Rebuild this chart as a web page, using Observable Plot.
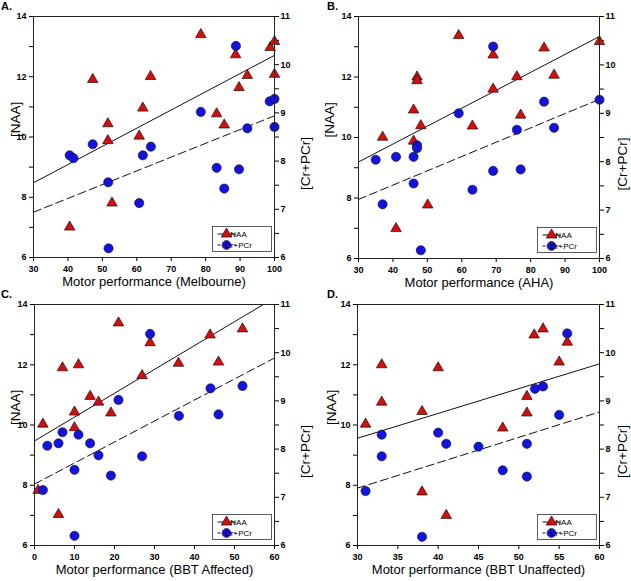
<!DOCTYPE html>
<html><head><meta charset="utf-8">
<script src="https://cdn.jsdelivr.net/npm/d3@7"></script>
<script src="https://cdn.jsdelivr.net/npm/@observablehq/plot@0.6"></script>
<style>
body{margin:0;background:#fff;}
#root{position:relative;width:631px;height:581px;font-family:Arial,"Liberation Sans",sans-serif;overflow:hidden;}
.panel{position:absolute;}
.panel svg{overflow:visible;}
.lbl{position:absolute;font-weight:bold;font-size:11px;line-height:11px;color:#000;}
</style></head><body><div id="root"></div>
<script>
// ---- tick values ----
const naaTicks = [6,7,8,9,10,11,12,13,14];
const crTicks = [6,6.5,7,7.5,8,8.5,9,9.5,10,10.5,11];
const melbTicks = [30,40,50,60,70,80,90,100];
const ahaTicks = [30,40,50,60,70,80,90,100];
const bbtaTicks = [0,10,20,30,40,50,60];
const bbtuTicks = [30,35,40,45,50,55,60];

// ---- A: Melbourne ----
const melbNaaX = [40.5,47.2,51.6,51.6,52.8,60.7,61.75,64,78.6,83.2,85.4,88.7,89.7,92.1,98.75,100,100];
const melbNaa  = [7.01,11.91,10.44,9.88,7.81,10.03,10.96,12.01,13.40,10.77,10.40,12.73,11.64,12.04,12.97,13.17,12.08];
const melbCrX  = [40.5,41.6,47.2,51.7,51.8,60.7,61.75,64.1,78.6,83.2,85.4,88.8,89.7,92.1,98.6,100,100];
const melbCr   = [8.12,8.06,8.35,7.56,6.19,7.13,8.12,8.30,9.02,7.86,7.43,10.39,7.83,8.68,9.24,9.29,8.71];
const melbFitX = [30,100];
const melbFitNaa = [8.48,12.71];
const melbFitCr = [6.94,8.94];

// ---- B: AHA ----
const ahaNaaX = [37,40.9,46,46,47,47,48.1,50.1,59.1,63.1,69.1,69.1,76,77.1,83.9,86.8,100];
const ahaNaa  = [10.01,6.99,10.91,9.88,12.0,11.88,10.39,7.77,13.37,10.38,12.73,11.60,12.01,10.74,12.96,12.06,13.17];
const ahaCrX  = [35,37,40.9,46,46,47,47,48.1,59.1,63.1,69.1,69.1,76,77.1,83.9,86.8,100];
const ahaCr   = [8.04,7.12,8.10,8.10,7.55,8.34,8.28,6.17,9.00,7.42,10.38,7.81,8.66,7.84,9.24,8.70,9.28];
const ahaFitX = [30,100];
const ahaFitNaa = [9.19,13.34];
const ahaFitCr = [7.22,9.29];

// ---- C: BBT Affected ----
const bbtaNaaX = [0.9,2.1,6.0,7.0,10.0,10.0,11.0,13.9,16.0,19.1,21.0,26.9,28.9,36.0,43.9,46.0,52.0];
const bbtaNaa  = [7.83,10.03,7.03,11.90,10.43,9.91,12.0,10.95,10.76,10.40,13.39,11.64,12.73,12.05,12.99,12.09,13.19];
const bbtaCrX  = [2.1,3.2,6.0,7.0,10.0,10.0,11.0,13.9,16.0,19.1,21.0,26.9,28.9,36.1,44.0,46.0,52.0];
const bbtaCr   = [7.15,8.07,8.12,8.35,7.57,6.20,8.30,8.12,7.87,7.45,9.02,7.85,10.39,8.69,9.26,8.72,9.31];
const bbtaFitX = [0,60];
const bbtaFitNaa = [9.47,14.22];
const bbtaFitCr = [7.275,9.89];

// ---- D: BBT Unaffected ----
const bbtuNaaX = [31,33,33,38,38,40,41,48,51,51,51.9,53,55,56];
const bbtuNaa  = [10.03,12.0,10.76,10.45,7.78,11.90,7.0,9.90,10.95,10.40,12.99,13.19,12.09,12.75];
const bbtuCrX  = [31,33,33,38,40,41,45,48,51,51,52,53,55,56];
const bbtuCr   = [7.13,8.30,7.85,6.18,8.34,8.11,8.05,7.56,8.11,7.43,9.25,9.30,8.71,10.40];
const bbtuFitX = [30,60];
const bbtuFitNaa = [9.56,12.03];
const bbtuFitCr = [7.19,8.77];

const RED = "#dc0a0a", BLUE = "#1212e8", DASH = "8,4";
const toL = c => 6 + (c - 6) * 1.6;            // Cr+PCr axis (6–11) onto NAA axis (6–14)
const fromL = v => (v - 6) / 1.6 + 6;

function panel(o) {
  const naa = o.naaX.map((x, i) => ({x, y: o.naa[i]}));
  const cr = o.crX.map((x, i) => ({x, y: toL(o.cr[i])}));
  const fitN = o.fitX.map((x, i) => ({x, y: o.fitNaa[i]}));
  const fitC = o.fitX.map((x, i) => ({x, y: toL(o.fitCr[i])}));
  const svg = Plot.plot({
    width: o.W, height: o.H,
    marginLeft: o.m.left, marginRight: o.m.right, marginTop: o.m.top, marginBottom: o.m.bottom,
    x: {domain: o.xDomain},
    y: {domain: [6, 14]},
    style: {fontFamily: "Arial, 'Liberation Sans', sans-serif", fontSize: "9px", color: "#000", background: "transparent", overflow: "visible"},
    marks: [
      Plot.axisX({ticks: o.xTicks, tickSize: 4, tickPadding: 4, fontWeight: "bold", fontSize: 9, label: null}),
      Plot.axisY({ticks: naaTicks, tickSize: 4, tickPadding: 3, fontWeight: "bold", fontSize: 9, label: null,
        tickFormat: d => (d % 2 === 0 ? String(d) : "")}),
      Plot.axisY({anchor: "right", ticks: crTicks.map(toL), tickSize: 4, tickPadding: 2, fontWeight: "bold", fontSize: 9, label: null,
        tickFormat: d => { const c = Math.round(fromL(d) * 2) / 2; return Number.isInteger(c) ? String(c) : ""; }}),
      Plot.line(fitN, {x: "x", y: "y", stroke: "#111", strokeWidth: 1, clip: true}),
      Plot.line(fitC, {x: "x", y: "y", stroke: "#111", strokeWidth: 1, strokeDasharray: DASH, clip: true}),
      Plot.dot(naa, {x: "x", y: "y", symbol: "triangle", r: 3.9, fill: RED, stroke: "#111", strokeWidth: 0.7}),
      Plot.dot(cr, {x: "x", y: "y", r: 4.6, fill: BLUE, stroke: "#111", strokeWidth: 0.6}),
      Plot.frame({stroke: "#222", strokeWidth: 1}),
      Plot.text(["[NAA]"], {text: d => d, frameAnchor: "left", rotate: -90, dx: o.tl, fontSize: 13.5}),
      Plot.text(["[Cr+PCr]"], {text: d => d, frameAnchor: "right", rotate: -90, dx: o.tr, fontSize: 13.5}),
      Plot.text([o.xLabel], {text: d => d, frameAnchor: "bottom", dy: 28, fontSize: 13})
    ]
  });
  // legend box
  const fr = o.W - o.m.right, fb = o.H - o.m.bottom;
  const bw = 59, bh = 25, bx = fr - bw - 2.5, by = fb - bh - 5.5;
  const g = d3.select(svg).append("g").attr("font-family", "Arial, 'Liberation Sans', sans-serif");
  g.append("rect").attr("x", bx).attr("y", by).attr("width", bw).attr("height", bh)
    .attr("fill", "#fff").attr("stroke", "#333").attr("stroke-width", 0.8);
  const rows = [
    {label: "NAA", dash: null, sym: d3.symbolTriangle, size: Math.PI * 3.9 * 3.9, fill: RED},
    {label: "Cr+PCr", dash: "3,2.5", sym: d3.symbolCircle, size: Math.PI * 4.4 * 4.4, fill: BLUE}
  ];
  rows.forEach((r, i) => {
    const cy = by + 7.5 + i * 11;
    const l = g.append("line").attr("x1", bx + 5).attr("x2", bx + 23).attr("y1", cy).attr("y2", cy)
      .attr("stroke", "#111").attr("stroke-width", 1);
    if (r.dash) l.attr("stroke-dasharray", r.dash);
    g.append("path").attr("d", d3.symbol(r.sym, r.size)()).attr("transform", `translate(${bx + 14},${cy})`)
      .attr("fill", r.fill).attr("stroke", "#111").attr("stroke-width", 0.7);
    g.append("text").attr("x", bx + 26).attr("y", cy).attr("dy", "0.35em").attr("font-size", 8).attr("fill", "#000").text(r.label);
  });
  const div = document.createElement("div");
  div.className = "panel";
  div.style.left = o.left + "px"; div.style.top = o.top + "px";
  div.appendChild(svg);
  document.getElementById("root").appendChild(div);
  const lab = document.createElement("div");
  lab.className = "lbl"; lab.textContent = o.tag;
  lab.style.left = o.tagX + "px"; lab.style.top = o.tagY + "px";
  document.getElementById("root").appendChild(lab);
}

panel({tag: "A.", tagX: 1, tagY: 1, left: 0, top: 0, W: 315, H: 290, m: {left: 33, right: 41, top: 16, bottom: 33},
  xDomain: [30, 100], xTicks: melbTicks, naaX: melbNaaX, naa: melbNaa, crX: melbCrX, cr: melbCr,
  fitX: melbFitX, fitNaa: melbFitNaa, fitCr: melbFitCr, xLabel: "Motor performance (Melbourne)", tl: -18, tr: 31});
panel({tag: "B.", tagX: 327, tagY: 1, left: 310, top: 0, W: 321, H: 290, m: {left: 48, right: 32, top: 16, bottom: 32},
  xDomain: [30, 100], xTicks: ahaTicks, naaX: ahaNaaX, naa: ahaNaa, crX: ahaCrX, cr: ahaCr,
  fitX: ahaFitX, fitNaa: ahaFitNaa, fitCr: ahaFitCr, xLabel: "Motor performance (AHA)", tl: -29, tr: 23.5});
panel({tag: "C.", tagX: 1, tagY: 289, left: 0, top: 290, W: 315, H: 291, m: {left: 34, right: 41, top: 14, bottom: 36},
  xDomain: [0, 60], xTicks: bbtaTicks, naaX: bbtaNaaX, naa: bbtaNaa, crX: bbtaCrX, cr: bbtaCr,
  fitX: bbtaFitX, fitNaa: bbtaFitNaa, fitCr: bbtaFitCr, xLabel: "Motor performance (BBT Affected)", tl: -19, tr: 31});
panel({tag: "D.", tagX: 327, tagY: 289, left: 310, top: 290, W: 321, H: 291, m: {left: 47, right: 32, top: 14, bottom: 36},
  xDomain: [30, 60], xTicks: bbtuTicks, naaX: bbtuNaaX, naa: bbtuNaa, crX: bbtuCrX, cr: bbtuCr,
  fitX: bbtuFitX, fitNaa: bbtuFitNaa, fitCr: bbtuFitCr, xLabel: "Motor performance (BBT Unaffected)", tl: -26, tr: 23.5});
</script></body></html>
